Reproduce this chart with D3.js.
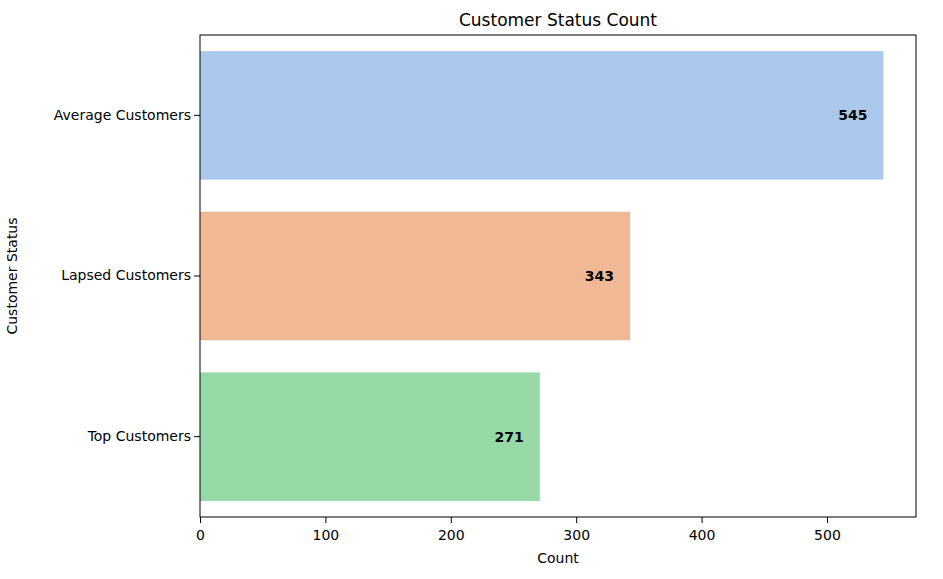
<!DOCTYPE html>
<html><head><meta charset="utf-8">
<script src="https://cdn.jsdelivr.net/npm/d3@7"></script>
<style>body{margin:0;background:#fff}text{font-family:"DejaVu Sans",sans-serif}</style>
</head><body><div id="chart"></div>
<script>
var categories = ['Average Customers', 'Lapsed Customers', 'Top Customers'];
var counts = [545, 343, 271];
var colors = ['#abc9ed', '#f0b894', '#98d9a8'];
var xTicks = [0, 100, 200, 300, 400, 500];

var svgWidth = 943, svgHeight = 579;
var margin = {top: 35, right: 27, bottom: 62, left: 200};
var width = svgWidth - margin.left - margin.right;
var height = svgHeight - margin.top - margin.bottom;

var svg = d3.select('#chart').append('svg')
  .attr('width', svgWidth).attr('height', svgHeight);
var g = svg.append('g').attr('transform', `translate(${margin.left}, ${margin.top})`);

var x = d3.scaleLinear().domain([0, 571]).range([0, width]);
var y = d3.scaleBand().domain(categories).range([0, height]).paddingInner(0.2).paddingOuter(0.1);

g.selectAll('rect.bar').data(categories).enter().append('rect')
  .attr('x', 0).attr('y', d => y(d))
  .attr('width', (d, i) => x(counts[i])).attr('height', y.bandwidth())
  .attr('fill', (d, i) => colors[i]);

g.selectAll('text.val').data(categories).enter().append('text')
  .attr('x', (d, i) => x(counts[i]) - 16)
  .attr('y', d => y(d) + y.bandwidth() / 2).attr('dy', '0.35em')
  .attr('text-anchor', 'end').attr('font-size', 14).attr('font-weight', 'bold')
  .text((d, i) => counts[i]);

g.append('rect').attr('width', width).attr('height', height)
  .attr('fill', 'none').attr('stroke', '#000').attr('stroke-width', 1);

var xAxis = g.append('g').attr('transform', `translate(0, ${height})`)
  .call(d3.axisBottom(x).tickValues(xTicks).tickSizeOuter(0));
var yAxis = g.append('g').call(d3.axisLeft(y).tickSizeOuter(0));
[xAxis, yAxis].forEach(a => {
  a.select('.domain').remove();
  a.selectAll('text').attr('font-size', 14).attr('font-family', 'DejaVu Sans').attr('fill', '#000');
});
xAxis.selectAll('text').attr('dy', '1em');

svg.append('text').attr('x', margin.left + width / 2).attr('y', 26)
  .attr('text-anchor', 'middle').attr('font-size', 17).text('Customer Status Count');
svg.append('text').attr('x', margin.left + width / 2).attr('y', 563)
  .attr('text-anchor', 'middle').attr('font-size', 14).text('Count');
svg.append('text').attr('transform', `translate(17, ${margin.top + height / 2}) rotate(-90)`)
  .attr('text-anchor', 'middle').attr('font-size', 14).text('Customer Status');
</script></body></html>
